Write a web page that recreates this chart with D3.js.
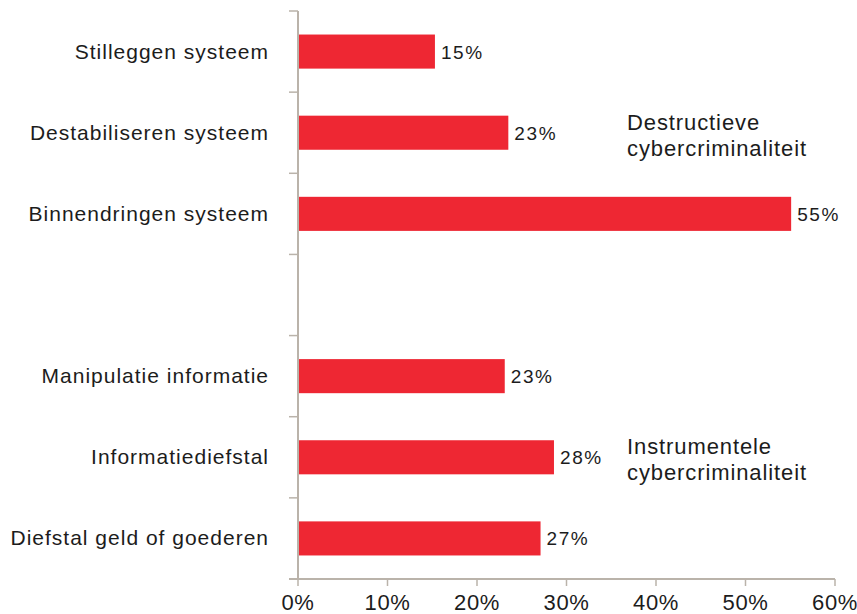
<!DOCTYPE html>
<html>
<head>
<meta charset="utf-8">
<script src="https://cdn.jsdelivr.net/npm/d3@7"></script>
<style>
  body { margin: 0; background: #fff; }
  text { font-family: "Liberation Sans", Arial, sans-serif; fill: #1c1c1c; }
</style>
</head>
<body>
<svg id="chart" width="857" height="614"></svg>
<script>
// categorieën (lege regel = tussenruimte tussen de twee groepen)
const categories = [
  "Stilleggen systeem",
  "Destabiliseren systeem",
  "Binnendringen systeem",
  "",
  "Manipulatie informatie",
  "Informatiediefstal",
  "Diefstal geld of goederen"
];
const values = [15.3, 23.5, 55.1, null, 23.1, 28.6, 27.1];
const valueLabels = ["15%", "23%", "55%", "", "23%", "28%", "27%"];
const xTicks = [0, 10, 20, 30, 40, 50, 60];
const groupLabels = [
  { at: "Destabiliseren systeem", lines: ["Destructieve", "cybercriminaliteit"] },
  { at: "Informatiediefstal", lines: ["Instrumentele", "cybercriminaliteit"] }
];

const svg = d3.select("#chart");
const axisColor = "#bab3aa";
const barColor = "#ee2733";

const x = d3.scaleLinear().domain([0, 60]).range([298, 835]);
const y = d3.scaleBand()
  .domain(categories.map((c, i) => i))
  .range([11, 579])
  .paddingInner(0.58)
  .paddingOuter(0.29);
const step = y.step();

// y-as met streepjes op de grenzen van de banden
svg.append("line")
  .attr("x1", x(0)).attr("x2", x(0))
  .attr("y1", 11).attr("y2", 579)
  .attr("stroke", axisColor).attr("stroke-width", 2);
d3.range(categories.length).forEach((i) => {
  svg.append("line")
    .attr("x1", x(0) - 9).attr("x2", x(0))
    .attr("y1", 11 + i * step).attr("y2", 11 + i * step)
    .attr("stroke", axisColor).attr("stroke-width", 1.5);
});

// x-as
svg.append("line")
  .attr("x1", x(0) - 9).attr("x2", x(60))
  .attr("y1", 579).attr("y2", 579)
  .attr("stroke", axisColor).attr("stroke-width", 2);
xTicks.forEach((t) => {
  svg.append("line")
    .attr("x1", x(t)).attr("x2", x(t))
    .attr("y1", 579).attr("y2", 586)
    .attr("stroke", axisColor).attr("stroke-width", 1.5);
  svg.append("text")
    .attr("x", x(t)).attr("y", 610)
    .attr("text-anchor", "middle")
    .attr("font-size", 22)
    .attr("letter-spacing", 0.6)
    .text(t + "%");
});

// balken
categories.forEach((c, i) => {
  if (values[i] == null) return;
  svg.append("rect")
    .attr("x", x(0) + 1)
    .attr("y", y(i))
    .attr("width", x(values[i]) - x(0) - 1)
    .attr("height", y.bandwidth())
    .attr("fill", barColor);
  svg.append("text")
    .attr("x", x(values[i]) + 6)
    .attr("y", y(i) + y.bandwidth() / 2 + 7)
    .attr("font-size", 19)
    .attr("letter-spacing", 1.6)
    .text(valueLabels[i]);
  svg.append("text")
    .attr("x", 269)
    .attr("y", y(i) + y.bandwidth() / 2 + 7)
    .attr("text-anchor", "end")
    .attr("font-size", 21)
    .attr("letter-spacing", 1)
    .text(c);
});

// groepslabels
groupLabels.forEach((g) => {
  const i = categories.indexOf(g.at);
  const t = svg.append("text")
    .attr("x", 627)
    .attr("y", y(i) + 14)
    .attr("font-size", 22)
    .attr("letter-spacing", 0.9);
  g.lines.forEach((l, k) => {
    t.append("tspan").attr("x", 627).attr("dy", k === 0 ? 0 : 26).text(l);
  });
});
</script>
</body>
</html>
